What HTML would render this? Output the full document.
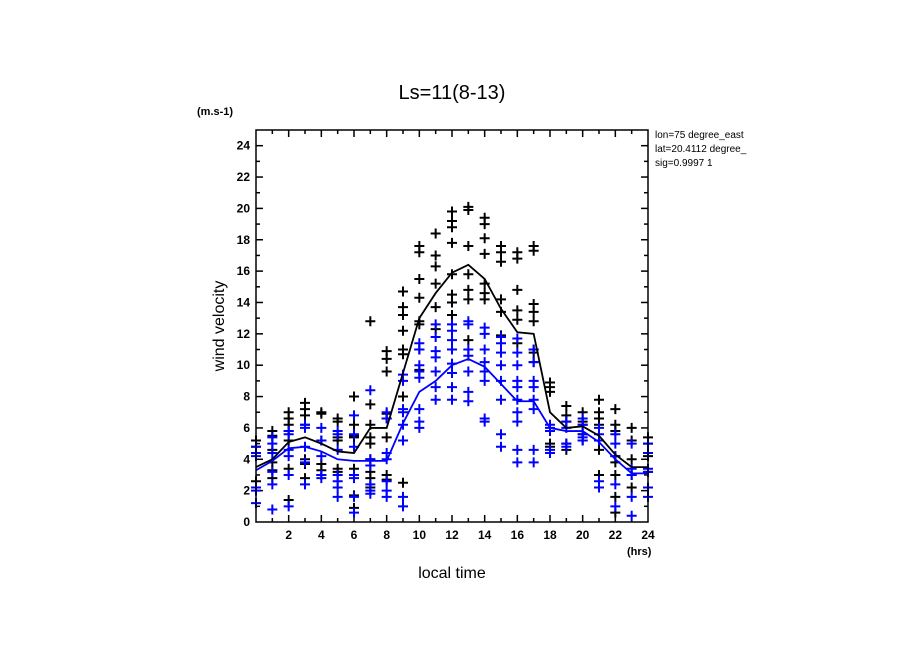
<!DOCTYPE html>
<html><head><meta charset="utf-8"><style>
body{margin:0;background:#fff;}
svg{display:block;font-family:"Liberation Sans",sans-serif;}
</style></head><body>
<svg id="c" width="904" height="654" viewBox="0 0 904 654">
<text x="452" y="99" font-size="20" text-anchor="middle">Ls=11(8-13)</text>
<text x="197" y="115" font-size="11" font-weight="bold">(m.s-1)</text>
<text x="627" y="555" font-size="11" font-weight="bold">(hrs)</text>
<text x="452" y="578" font-size="16" text-anchor="middle">local time</text>
<text transform="translate(224,326) rotate(-90)" font-size="16" text-anchor="middle">wind velocity</text>
<g font-size="10">
<text x="655" y="138">lon=75 degree_east</text>
<text x="655" y="152">lat=20.4112 degree_</text>
<text x="655" y="166">sig=0.9997 1</text>
</g>
<g id="ticks"></g>
<g id="marks"></g>
<rect x="256" y="130" width="392" height="392" fill="none" stroke="#000" stroke-width="1.5"/>
</svg>
<script>
const hours=[0,1,2,3,4,5,6,7,8,9,10,11,12,13,14,15,16,17,18,19,20,21,22,23,24];
const meanBlack=[3.5,4.0,5.1,5.4,5.0,4.5,4.4,6.0,6.0,9.5,13.0,14.6,15.9,16.4,15.5,13.6,12.1,12.0,7.0,6.0,6.1,5.5,4.3,3.5,3.5];
const meanBlue=[3.3,3.9,4.7,4.8,4.5,4.0,3.9,3.9,3.9,6.3,8.3,9.0,10.0,10.4,9.9,8.8,7.7,7.7,6.0,5.8,5.8,5.1,4.0,3.1,3.1];
const ptsBlack=[[5.2,4.8,4.4,2.6,2.2],[5.8,5.5,4.6,3.8,3.3,2.8],[7.0,6.6,6.2,5.8,5.2,3.4,1.4],[7.6,7.2,6.8,6.2,4.0,3.7,2.8],[7.0,6.9,5.2,3.7,3.3,3.0],[6.6,6.4,5.4,5.2,3.4,3.2],[8.0,6.2,5.5,5.4,3.4,1.7,0.9],[12.8,7.5,6.2,5.4,5.0,4.0,3.2,2.8,2.2],[10.9,10.4,9.6,6.9,6.6,5.4,3.0,2.7],[14.7,13.7,13.2,12.2,11.0,10.7,8.0,2.5],[17.6,17.2,15.5,14.3,12.8,12.6,11.0,9.7],[18.4,17.0,16.3,15.2,13.7,12.3],[19.8,19.2,18.8,17.8,15.8,14.5,14.0,13.2],[20.1,19.9,17.6,15.8,14.8,14.2,11.6],[19.4,19.0,18.1,17.1,15.2,14.6,14.2],[17.6,17.2,16.6,14.2,13.4,11.9],[17.2,16.8,14.8,13.5,12.9,11.4],[17.6,17.3,13.9,13.4,12.8,11.0,10.8,10.2],[8.9,8.6,8.3,5.8,5.0,4.8],[7.4,6.8,6.4,5.0,4.6],[7.0,6.4,6.2,5.6,5.2],[7.8,7.0,6.6,6.2,4.6,3.0],[7.2,6.2,5.8,4.2,3.8,3.0,1.6,0.6],[6.0,5.2,4.0,3.0,2.2],[5.4,5.0,4.2,3.2]];
const ptsBlue=[[4.8,4.4,4.2,2.2,2.0,1.2],[5.4,5.0,4.4,3.2,2.4,0.8],[5.8,5.6,4.6,4.2,3.0,1.0],[6.2,6.0,4.8,3.8,2.4],[6.0,5.2,4.2,3.0,2.8],[5.8,5.6,4.6,3.0,2.6,2.2,1.6],[6.8,5.6,4.8,3.0,2.8,1.6,0.6],[8.4,4.0,3.6,2.4,2.0,1.8],[7.0,6.6,4.4,4.0,2.6,2.0,1.6],[9.4,9.0,7.2,7.0,6.2,5.2,1.6,1.0],[11.4,11.0,10.0,9.6,9.2,7.2,6.4,6.0],[12.6,11.8,10.9,10.5,9.6,8.6,7.8],[12.6,12.2,11.6,11.0,10.1,9.5,8.6,7.8],[12.8,12.6,11.0,10.6,9.6,8.3,7.7],[12.4,12.0,11.0,10.2,9.6,9.0,6.6,6.4],[11.8,11.4,10.8,10.0,9.0,7.8,5.6,4.8],[11.7,10.8,10.0,9.0,8.6,7.8,7.0,6.4,4.6,3.8],[11.0,10.2,9.0,8.6,7.8,7.2,4.6,3.8],[6.2,6.0,5.8,4.6,4.4],[6.4,6.0,5.0,4.8],[6.6,6.2,5.6,5.4,5.2],[6.0,5.6,5.2,2.6,2.2],[5.6,5.0,4.2,2.4,1.0],[5.0,3.4,3.0,1.6,0.4],[5.0,4.4,3.4,3.2,2.2,1.6]];
const xTicks=[2,4,6,8,10,12,14,16,18,20,22,24];
const yTicks=[0,2,4,6,8,10,12,14,16,18,20,22,24];
const NS='http://www.w3.org/2000/svg';
const X0=256,X1=648,Y0=522,Y1=130;
function xs(h){return X0+h*(X1-X0)/24;}
function ys(v){return Y0-v*(Y0-Y1)/25;}
function mk(tag,attrs,parent){const e=document.createElementNS(NS,tag);for(const k in attrs)e.setAttribute(k,attrs[k]);parent.appendChild(e);return e;}
const tg=document.getElementById('ticks');
const mg=document.getElementById('marks');
for(let h=1;h<24;h++){
  const L=(h%2===0)?7:4;
  const t1=mk('line',{x1:xs(h),x2:xs(h),y1:Y0,y2:Y0-L,stroke:'#000','stroke-width':1.5},tg);
  
  
  const t2=mk('line',{x1:xs(h),x2:xs(h),y1:Y1,y2:Y1+L,stroke:'#000','stroke-width':1.5},tg);
  
  
}
for(let v=1;v<25;v++){
  const L=(v%2===0)?7:4;
  const t1=mk('line',{x1:X0,x2:X0+L,y1:ys(v),y2:ys(v),stroke:'#000','stroke-width':1.5},tg);
  
  
  const t2=mk('line',{x1:X1,x2:X1-L,y1:ys(v),y2:ys(v),stroke:'#000','stroke-width':1.5},tg);
  
  
}
xTicks.forEach(h=>{
  const t=mk('text',{x:xs(h),y:Y0+17,'font-size':12,'font-weight':'bold','text-anchor':'middle'},tg);
  t.textContent=h;
  
  
});
yTicks.forEach(v=>{
  const t=mk('text',{x:X0-6,y:ys(v)+4,'font-size':12,'font-weight':'bold','text-anchor':'end'},tg);
  t.textContent=v;
  
  
});
function plus(h,v,col,name){
  const x=xs(h),y=ys(v);
  const p=mk('path',{d:`M${x-5},${y}H${x+5}M${x},${y-5}V${y+5}`,stroke:col,'stroke-width':2,fill:'none'},mg);
  
  
}
ptsBlack.forEach((arr,i)=>arr.forEach(v=>plus(hours[i],v,'#000','black-point')));
ptsBlue.forEach((arr,i)=>arr.forEach(v=>plus(hours[i],v,'#0000ff','blue-point')));
function line(arr,col,name){
  const d=arr.map((v,i)=>(i?'L':'M')+xs(hours[i])+','+ys(v)).join('');
  const p=mk('path',{d:d,stroke:col,'stroke-width':1.8,fill:'none'},mg);
  
  
}
line(meanBlack,'#000','black-mean-line');
line(meanBlue,'#0000ff','blue-mean-line');
</script>
</body></html>
